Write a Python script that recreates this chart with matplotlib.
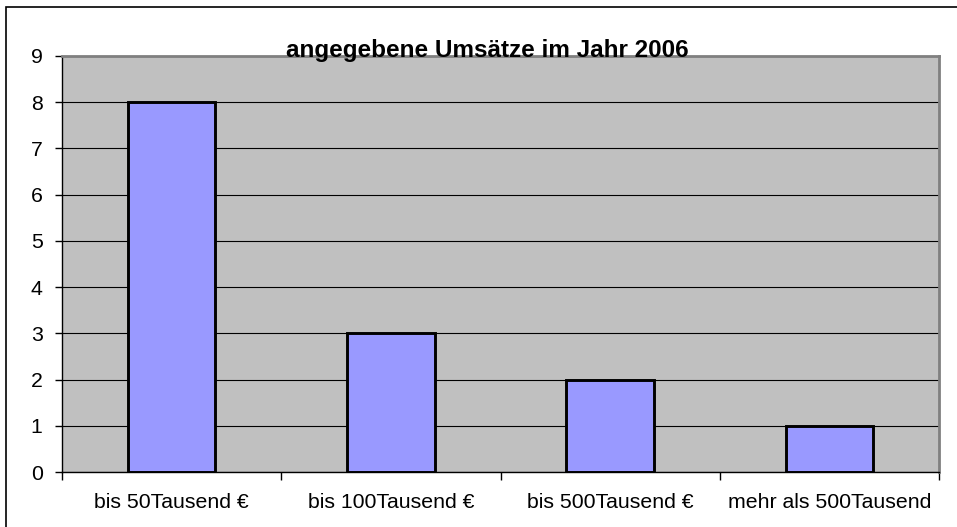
import matplotlib.pyplot as plt
from matplotlib.patches import Rectangle

# Daten
kategorien = ['bis 50Tausend €', 'bis 100Tausend €', 'bis 500Tausend €', 'mehr als 500Tausend']
anzahl = [8, 3, 2, 1]
titel = 'angegebene Umsätze im Jahr 2006'

plt.rcParams['font.family'] = ['Liberation Sans', 'DejaVu Sans']

W, H = 957, 527
fig = plt.figure(figsize=(W / 100, H / 100), dpi=100)
fig.patch.set_facecolor('white')

# Rahmen um das Diagramm
fig.patches.append(Rectangle((6 / W, -0.05), 1.2, 1 - 7 / H + 0.05, transform=fig.transFigure,
                             fill=False, edgecolor='black', linewidth=1.2))

ax = fig.add_axes([62 / W, 1 - 472 / H, (939 - 62) / W, (472 - 56) / H])
ax.set_facecolor('#C0C0C0')

x = range(len(kategorien))
ax.bar(x, anzahl, width=0.4, color='#9999FF', edgecolor='black', linewidth=2.1, zorder=3)

ax.set_xlim(-0.5, len(kategorien) - 0.5)
ax.set_ylim(0, 9)
ax.set_yticks(range(10))
ax.yaxis.grid(True, color='black', linewidth=0.8, zorder=1)
ax.set_axisbelow(True)

ax.set_xticks([i - 0.5 for i in range(len(kategorien) + 1)], minor=False)
ax.set_xticklabels([])
ax.set_xticks(list(x), minor=True)
ax.set_xticklabels(kategorien, minor=True, fontsize=15.3)
ax.tick_params(axis='x', which='minor', length=0, pad=15)
ax.tick_params(axis='x', which='major', length=6, width=1, color='black', direction='out')
ax.tick_params(axis='y', length=5, width=1, labelsize=15.3, pad=9)

for s in ['top', 'right']:
    ax.spines[s].set_color('#808080')
    ax.spines[s].set_linewidth(2)
for s in ['left', 'bottom']:
    ax.spines[s].set_color('black')
    ax.spines[s].set_linewidth(1)

fig.text(487 / W, 1 - 57 / H, titel, ha='center', va='baseline', fontsize=17.5, fontweight='bold')

fig.savefig('out.png', dpi=100)
